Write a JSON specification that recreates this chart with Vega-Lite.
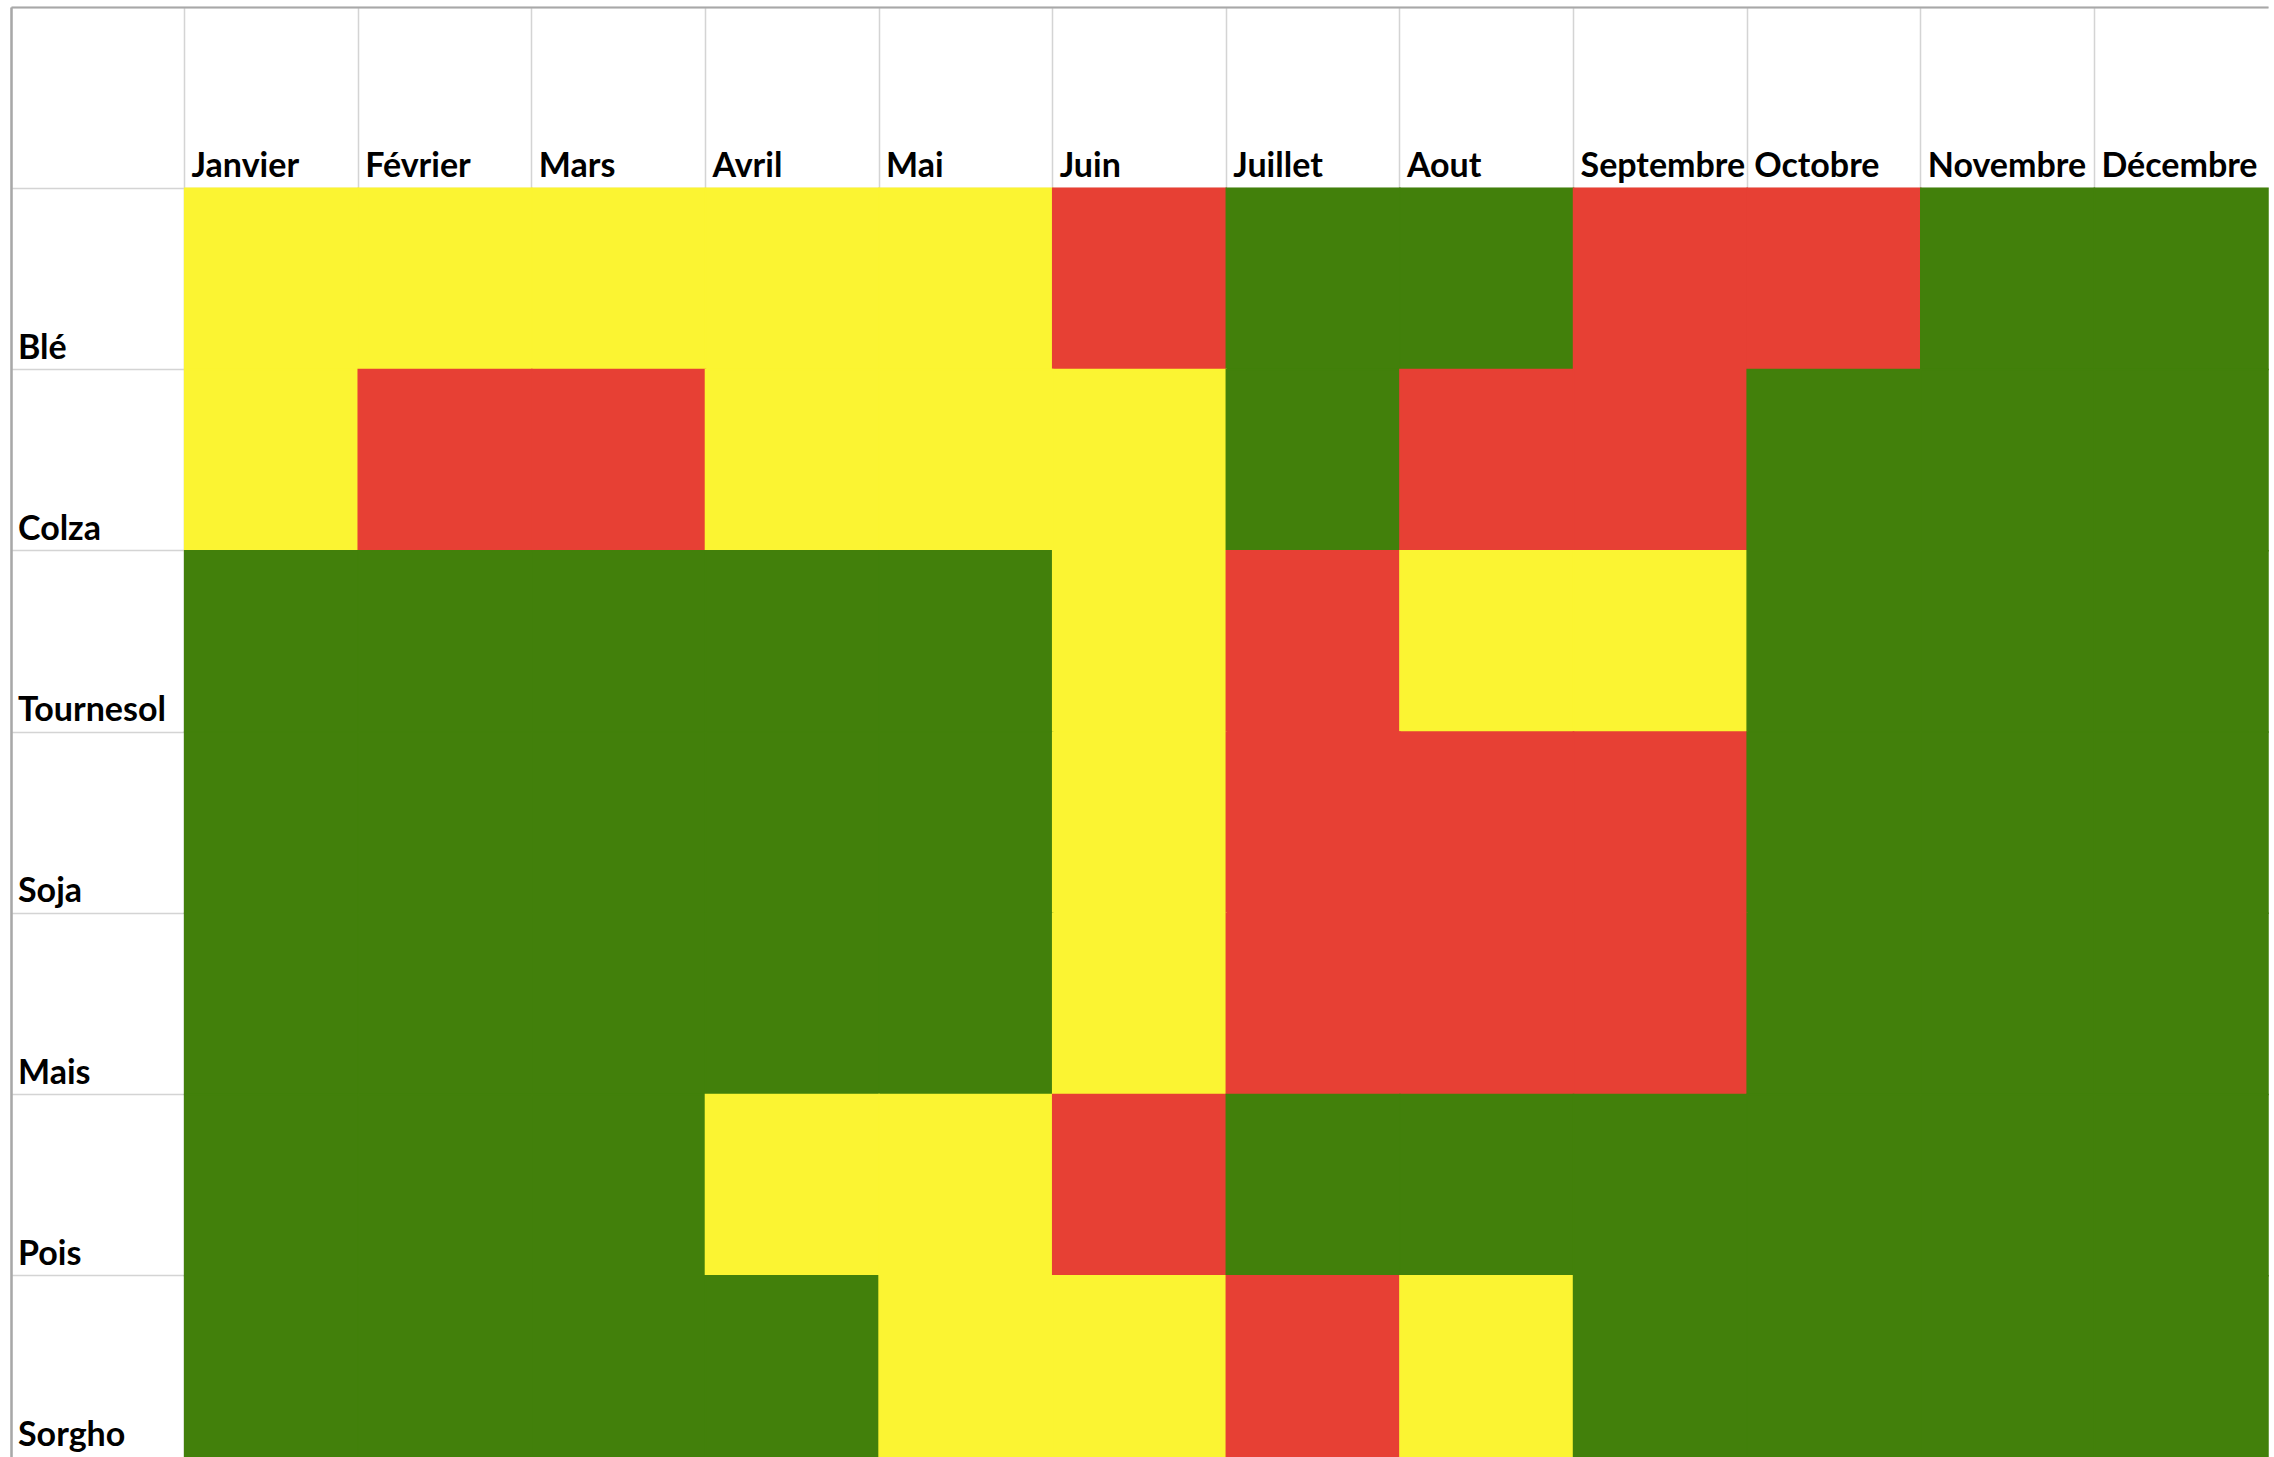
{
  "$schema": "https://vega.github.io/schema/vega-lite/v6.json",
  "width": 2257,
  "height": 1450,
  "autosize": "none",
  "padding": {"left": 11, "top": 7, "right": 6, "bottom": 0},
  "background": "white",
  "config": {"view": {"stroke": null}, "font": "Lato"},
  "datasets": {
    "cells": [
      {"crop": "Blé", "month": "Janvier", "status": "jaune"},
      {"crop": "Blé", "month": "Février", "status": "jaune"},
      {"crop": "Blé", "month": "Mars", "status": "jaune"},
      {"crop": "Blé", "month": "Avril", "status": "jaune"},
      {"crop": "Blé", "month": "Mai", "status": "jaune"},
      {"crop": "Blé", "month": "Juin", "status": "rouge"},
      {"crop": "Blé", "month": "Juillet", "status": "vert"},
      {"crop": "Blé", "month": "Aout", "status": "vert"},
      {"crop": "Blé", "month": "Septembre", "status": "rouge"},
      {"crop": "Blé", "month": "Octobre", "status": "rouge"},
      {"crop": "Blé", "month": "Novembre", "status": "vert"},
      {"crop": "Blé", "month": "Décembre", "status": "vert"},
      {"crop": "Colza", "month": "Janvier", "status": "jaune"},
      {"crop": "Colza", "month": "Février", "status": "rouge"},
      {"crop": "Colza", "month": "Mars", "status": "rouge"},
      {"crop": "Colza", "month": "Avril", "status": "jaune"},
      {"crop": "Colza", "month": "Mai", "status": "jaune"},
      {"crop": "Colza", "month": "Juin", "status": "jaune"},
      {"crop": "Colza", "month": "Juillet", "status": "vert"},
      {"crop": "Colza", "month": "Aout", "status": "rouge"},
      {"crop": "Colza", "month": "Septembre", "status": "rouge"},
      {"crop": "Colza", "month": "Octobre", "status": "vert"},
      {"crop": "Colza", "month": "Novembre", "status": "vert"},
      {"crop": "Colza", "month": "Décembre", "status": "vert"},
      {"crop": "Tournesol", "month": "Janvier", "status": "vert"},
      {"crop": "Tournesol", "month": "Février", "status": "vert"},
      {"crop": "Tournesol", "month": "Mars", "status": "vert"},
      {"crop": "Tournesol", "month": "Avril", "status": "vert"},
      {"crop": "Tournesol", "month": "Mai", "status": "vert"},
      {"crop": "Tournesol", "month": "Juin", "status": "jaune"},
      {"crop": "Tournesol", "month": "Juillet", "status": "rouge"},
      {"crop": "Tournesol", "month": "Aout", "status": "jaune"},
      {"crop": "Tournesol", "month": "Septembre", "status": "jaune"},
      {"crop": "Tournesol", "month": "Octobre", "status": "vert"},
      {"crop": "Tournesol", "month": "Novembre", "status": "vert"},
      {"crop": "Tournesol", "month": "Décembre", "status": "vert"},
      {"crop": "Soja", "month": "Janvier", "status": "vert"},
      {"crop": "Soja", "month": "Février", "status": "vert"},
      {"crop": "Soja", "month": "Mars", "status": "vert"},
      {"crop": "Soja", "month": "Avril", "status": "vert"},
      {"crop": "Soja", "month": "Mai", "status": "vert"},
      {"crop": "Soja", "month": "Juin", "status": "jaune"},
      {"crop": "Soja", "month": "Juillet", "status": "rouge"},
      {"crop": "Soja", "month": "Aout", "status": "rouge"},
      {"crop": "Soja", "month": "Septembre", "status": "rouge"},
      {"crop": "Soja", "month": "Octobre", "status": "vert"},
      {"crop": "Soja", "month": "Novembre", "status": "vert"},
      {"crop": "Soja", "month": "Décembre", "status": "vert"},
      {"crop": "Mais", "month": "Janvier", "status": "vert"},
      {"crop": "Mais", "month": "Février", "status": "vert"},
      {"crop": "Mais", "month": "Mars", "status": "vert"},
      {"crop": "Mais", "month": "Avril", "status": "vert"},
      {"crop": "Mais", "month": "Mai", "status": "vert"},
      {"crop": "Mais", "month": "Juin", "status": "jaune"},
      {"crop": "Mais", "month": "Juillet", "status": "rouge"},
      {"crop": "Mais", "month": "Aout", "status": "rouge"},
      {"crop": "Mais", "month": "Septembre", "status": "rouge"},
      {"crop": "Mais", "month": "Octobre", "status": "vert"},
      {"crop": "Mais", "month": "Novembre", "status": "vert"},
      {"crop": "Mais", "month": "Décembre", "status": "vert"},
      {"crop": "Pois", "month": "Janvier", "status": "vert"},
      {"crop": "Pois", "month": "Février", "status": "vert"},
      {"crop": "Pois", "month": "Mars", "status": "vert"},
      {"crop": "Pois", "month": "Avril", "status": "jaune"},
      {"crop": "Pois", "month": "Mai", "status": "jaune"},
      {"crop": "Pois", "month": "Juin", "status": "rouge"},
      {"crop": "Pois", "month": "Juillet", "status": "vert"},
      {"crop": "Pois", "month": "Aout", "status": "vert"},
      {"crop": "Pois", "month": "Septembre", "status": "vert"},
      {"crop": "Pois", "month": "Octobre", "status": "vert"},
      {"crop": "Pois", "month": "Novembre", "status": "vert"},
      {"crop": "Pois", "month": "Décembre", "status": "vert"},
      {"crop": "Sorgho", "month": "Janvier", "status": "vert"},
      {"crop": "Sorgho", "month": "Février", "status": "vert"},
      {"crop": "Sorgho", "month": "Mars", "status": "vert"},
      {"crop": "Sorgho", "month": "Avril", "status": "vert"},
      {"crop": "Sorgho", "month": "Mai", "status": "jaune"},
      {"crop": "Sorgho", "month": "Juin", "status": "jaune"},
      {"crop": "Sorgho", "month": "Juillet", "status": "rouge"},
      {"crop": "Sorgho", "month": "Aout", "status": "jaune"},
      {"crop": "Sorgho", "month": "Septembre", "status": "vert"},
      {"crop": "Sorgho", "month": "Octobre", "status": "vert"},
      {"crop": "Sorgho", "month": "Novembre", "status": "vert"},
      {"crop": "Sorgho", "month": "Décembre", "status": "vert"}
    ],
    "labels": [
      {"month": "Janvier", "crop": "", "label": "Janvier"},
      {"month": "Février", "crop": "", "label": "Février"},
      {"month": "Mars", "crop": "", "label": "Mars"},
      {"month": "Avril", "crop": "", "label": "Avril"},
      {"month": "Mai", "crop": "", "label": "Mai"},
      {"month": "Juin", "crop": "", "label": "Juin"},
      {"month": "Juillet", "crop": "", "label": "Juillet"},
      {"month": "Aout", "crop": "", "label": "Aout"},
      {"month": "Septembre", "crop": "", "label": "Septembre"},
      {"month": "Octobre", "crop": "", "label": "Octobre"},
      {"month": "Novembre", "crop": "", "label": "Novembre"},
      {"month": "Décembre", "crop": "", "label": "Décembre"},
      {"month": "", "crop": "Blé", "label": "Blé"},
      {"month": "", "crop": "Colza", "label": "Colza"},
      {"month": "", "crop": "Tournesol", "label": "Tournesol"},
      {"month": "", "crop": "Soja", "label": "Soja"},
      {"month": "", "crop": "Mais", "label": "Mais"},
      {"month": "", "crop": "Pois", "label": "Pois"},
      {"month": "", "crop": "Sorgho", "label": "Sorgho"}
    ]
  },
  "encoding": {
    "x": {
      "field": "month",
      "type": "nominal",
      "sort": null,
      "scale": {
        "domain": ["", "Janvier", "Février", "Mars", "Avril", "Mai", "Juin", "Juillet", "Aout", "Septembre", "Octobre", "Novembre", "Décembre"],
        "paddingInner": 0,
        "paddingOuter": 0
      },
      "axis": {
        "orient": "top",
        "title": null,
        "labels": false,
        "ticks": false,
        "domain": true,
        "domainColor": "#a8a8a8",
        "domainWidth": 2,
        "grid": true,
        "gridColor": "#d4d4d4",
        "gridWidth": 1.5,
        "bandPosition": 0,
        "zindex": 0
      }
    },
    "y": {
      "field": "crop",
      "type": "nominal",
      "sort": null,
      "scale": {
        "domain": ["", "Blé", "Colza", "Tournesol", "Soja", "Mais", "Pois", "Sorgho"],
        "paddingInner": 0,
        "paddingOuter": 0
      },
      "axis": {
        "orient": "left",
        "title": null,
        "labels": false,
        "ticks": false,
        "domain": true,
        "domainColor": "#a8a8a8",
        "domainWidth": 2.5,
        "grid": true,
        "gridColor": "#d4d4d4",
        "gridWidth": 1.5,
        "bandPosition": 0,
        "zindex": 0
      }
    }
  },
  "layer": [
    {
      "data": {"name": "cells"},
      "mark": {"type": "rect", "strokeWidth": 1.5},
      "encoding": {
        "color": {
          "field": "status",
          "type": "nominal",
          "scale": {"domain": ["jaune", "rouge", "vert"], "range": ["#FBF432", "#E74034", "#42800B"]},
          "legend": null
        },
        "stroke": {
          "field": "status",
          "type": "nominal",
          "scale": {"domain": ["jaune", "rouge", "vert"], "range": ["#FBF432", "#E74034", "#42800B"]},
          "legend": null
        }
      }
    },
    {
      "data": {"name": "labels"},
      "mark": {
        "type": "text",
        "align": "left",
        "baseline": "alphabetic",
        "dx": 7,
        "dy": -11,
        "font": "Lato",
        "fontSize": 34,
        "fontWeight": "bold",
        "color": "#000000"
      },
      "encoding": {
        "x": {"field": "month", "type": "nominal", "bandPosition": 0},
        "y": {"field": "crop", "type": "nominal", "bandPosition": 1},
        "text": {"field": "label"}
      }
    }
  ]
}
